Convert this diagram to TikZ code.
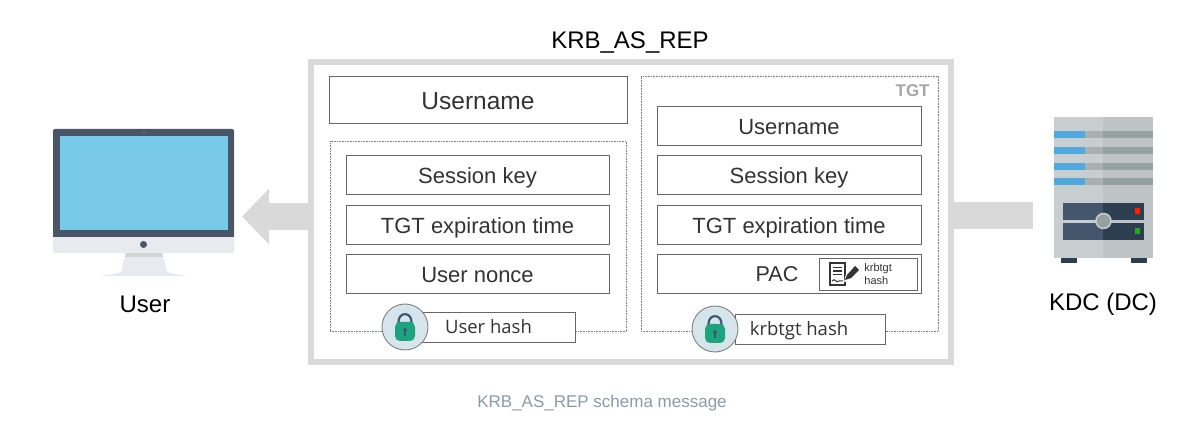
\documentclass[tikz,border=0pt]{standalone}
\usepackage{fontspec}
\setmainfont{Liberation Sans}
\newfontfamily\hashfont{Open Sans}
\usetikzlibrary{arrows.meta}
\definecolor{framegray}{HTML}{D9D9D9}
\definecolor{boxline}{HTML}{666666}
\definecolor{boxtext}{HTML}{333333}
\definecolor{monitordark}{HTML}{4A5568}
\definecolor{monitorblue}{HTML}{78C8E8}
\definecolor{monitorlight}{HTML}{E8EAEF}
\definecolor{lockface}{HTML}{D6E4EC}
\definecolor{lockgreen}{HTML}{1EA37F}
\definecolor{lockblue}{HTML}{3D5A73}
\definecolor{captiongray}{HTML}{8A9BA8}
\definecolor{serverleft}{HTML}{C8CDD0}
\definecolor{serverright}{HTML}{BEC4C6}
\definecolor{serverblue}{HTML}{4FA8DE}
\definecolor{barleft}{HTML}{A8B0B0}
\definecolor{barright}{HTML}{95A0A0}
\definecolor{panelleft}{HTML}{44566C}
\definecolor{panelright}{HTML}{2C3E50}
\tikzset{
  fieldbox/.style={draw=boxline,fill=white,line width=0.9pt,inner sep=0pt,outer sep=0pt,text=boxtext,text height=17pt,text depth=0pt,font=\fontsize{22}{24}\selectfont},
  groupbox/.style={draw=gray,densely dotted,line width=0.6pt,inner sep=0pt,outer sep=0pt},
  hashbox/.style={draw=boxline,fill=white,line width=0.9pt,inner sep=0pt,outer sep=0pt,text=boxtext,text height=14pt,text depth=0pt,font=\hashfont\fontsize{18.5}{20}\selectfont},
  lockdisc/.style={circle,draw=gray,fill=lockface,line width=0.9pt,minimum size=46pt,inner sep=0pt,outer sep=0pt},
  titletext/.style={inner sep=0pt,font=\fontsize{24}{26}\selectfont,text=black},
  flowbar/.style={draw=framegray,line width=27pt},
}
\begin{document}
\begin{tikzpicture}[x=1pt,y=-1pt,>=stealth,thick]
\useasboundingbox (0,0) rectangle (1192,430);
\coordinate (usertip) at (242,216.5);
\coordinate (kdcend) at (1033,216);
\node[draw=framegray,line width=6pt,minimum width=640pt,minimum height=300pt,inner sep=0pt,outer sep=0pt] (msg) at (631,212) {};
\draw[flowbar,-{Triangle[length=27pt,width=54pt]}] (msg.west |- usertip) -- (usertip);
\draw[flowbar] (msg.east |- kdcend) -- (kdcend);
\node[titletext] (msgtitle) at (630,43) {KRB\_AS\_REP};
\node[groupbox,minimum width=296pt,minimum height=190pt] (lefthash) at (478,236) {};
\node[groupbox,minimum width=297pt,minimum height=255pt] (tgt) at (789.5,203.5) {};
\node[anchor=east,inner sep=0pt,text=black!35,font=\bfseries\fontsize{17}{18}\selectfont] (tgtlabel) at (930,91) {TGT};
\node[fieldbox,minimum width=298pt,minimum height=47pt,text height=19pt,font=\fontsize{24.5}{26}\selectfont] (leftuser) at (478,100) {Username};
\foreach \name/\x/\y/\txt in {leftkey/477.5/175/Session key,lefttime/477.5/225/TGT expiration time,leftnonce/477.5/274/User nonce}{
  \node[fieldbox,minimum width=263pt,minimum height=39pt] (\name) at (\x,\y) {\txt};
}
\foreach \name/\x/\y/\txt in {rightuser/789/126/Username,rightkey/789/175/Session key,righttime/789/225/TGT expiration time}{
  \node[fieldbox,minimum width=264pt,minimum height=39pt] (\name) at (\x,\y) {\txt};
}
\node[fieldbox,minimum width=264pt,minimum height=39pt] (pacbox) at (789,274) {};
\node[inner sep=0pt,text=boxtext,font=\fontsize{21.5}{24}\selectfont] (pac) at (777,274.5) {PAC};
\node[draw=boxline,line width=0.9pt,minimum width=98pt,minimum height=32pt,inner sep=0pt,outer sep=0pt] (sigbox) at (868,274) {};
\node[anchor=west,align=left,inner sep=0pt,text=boxtext,font=\fontsize{11}{12.5}\selectfont] (sigtext) at (864,274) {krbtgt\\hash};
\draw[boxtext,line width=1.2pt] (830,263) rectangle (845,285);
\foreach \y in {267.5,271,274.5}{\draw[boxtext,line width=1.1pt] (833,\y) -- (842,\y);}
\draw[boxtext,line width=1pt] (832,281) .. controls (835,277) and (836,284) .. (839,281) -- (843,281);
\fill[white] (844,282) -- (846,274) -- (855,264) -- (860,270) -- (851,280) -- cycle;
\fill[boxtext] (845,280) -- (847,275) -- (855,266) -- (859,270) -- (851,278) -- cycle;
\node[hashbox,minimum width=155pt,minimum height=30pt] (userhash) at (497.5,327) {\hspace{-18pt}User hash};
\node[hashbox,minimum width=150pt,minimum height=30pt] (krbhash) at (810.5,329) {\hspace{-23pt}krbtgt hash};
\foreach \name/\x/\y in {userlock/405/327,krblock/715/329}{
  \node[lockdisc] (\name) at (\x,\y) {};
  \draw[lockblue,line width=2.2pt] (\x-6.5,\y-3) -- (\x-6.5,\y-5) .. controls (\x-6.5,\y-15.5) and (\x+6.5,\y-15.5) .. (\x+6.5,\y-5) -- (\x+6.5,\y-3);
  \fill[lockgreen,rounded corners=5pt] (\x-10,\y-5) -- (\x+10,\y-5) -- (\x+10,\y+14) -- (\x-10,\y+14) -- cycle;
  \fill[lockblue] (\x,\y+3) circle (2pt);
  \fill[lockblue] (\x-1,\y+3) rectangle (\x+1,\y+9);
}
\fill[monitorlight] (126,252) -- (162,252) -- (167,272) .. controls (172,274) and (182,275) .. (189,276) -- (100,276) .. controls (107,275) and (117,274) .. (121,272) -- cycle;
\fill[black!17] (126,253) -- (162,253) -- (163,257) -- (125,257) -- cycle;
\fill[monitorlight,rounded corners=2pt] (53,232) rectangle (234,253);
\fill[monitordark,rounded corners=2pt] (53,129) -- (234,129) -- (234,237) -- (53,237) -- cycle;
\fill[monitordark] (53,232) rectangle (234,237);
\fill[monitorblue] (60,136) rectangle (228,230);
\fill[monitordark] (143.5,244.5) circle (3.5pt);
\fill[gray] (144,133) circle (1pt);
\node[titletext] (user) at (145,304) {User};
\fill[serverleft] (1054,117) rectangle (1103,258);
\fill[serverright] (1103,117) rectangle (1153,258);
\foreach \y in {131,147,163,178}{
  \fill[serverblue] (1054,\y) rectangle (1085,\y+7);
  \fill[barleft] (1085,\y) rectangle (1103,\y+7);
  \fill[barright] (1103,\y) rectangle (1153,\y+7);
}
\foreach \y in {203,223}{
  \fill[panelleft] (1063,\y) rectangle (1103,\y+17);
  \fill[panelright] (1103,\y) rectangle (1144,\y+17);
}
\fill[barright,draw=serverleft,line width=1.5pt] (1103.5,221) circle (7.5pt);
\fill[red!75!orange] (1134.5,208.5) rectangle (1140,214);
\fill[green!60!black!85] (1134.5,228.5) rectangle (1140,234);
\foreach \x in {1061,1131}{\fill[panelright] (\x,258) rectangle (\x+16,263.5);}
\node[titletext] (kdc) at (1103,304) {KDC (DC)};
\node[inner sep=0pt,text=captiongray,font=\fontsize{17}{18}\selectfont] (caption) at (602,403) {KRB\_AS\_REP schema message};
\end{tikzpicture}
\end{document}
